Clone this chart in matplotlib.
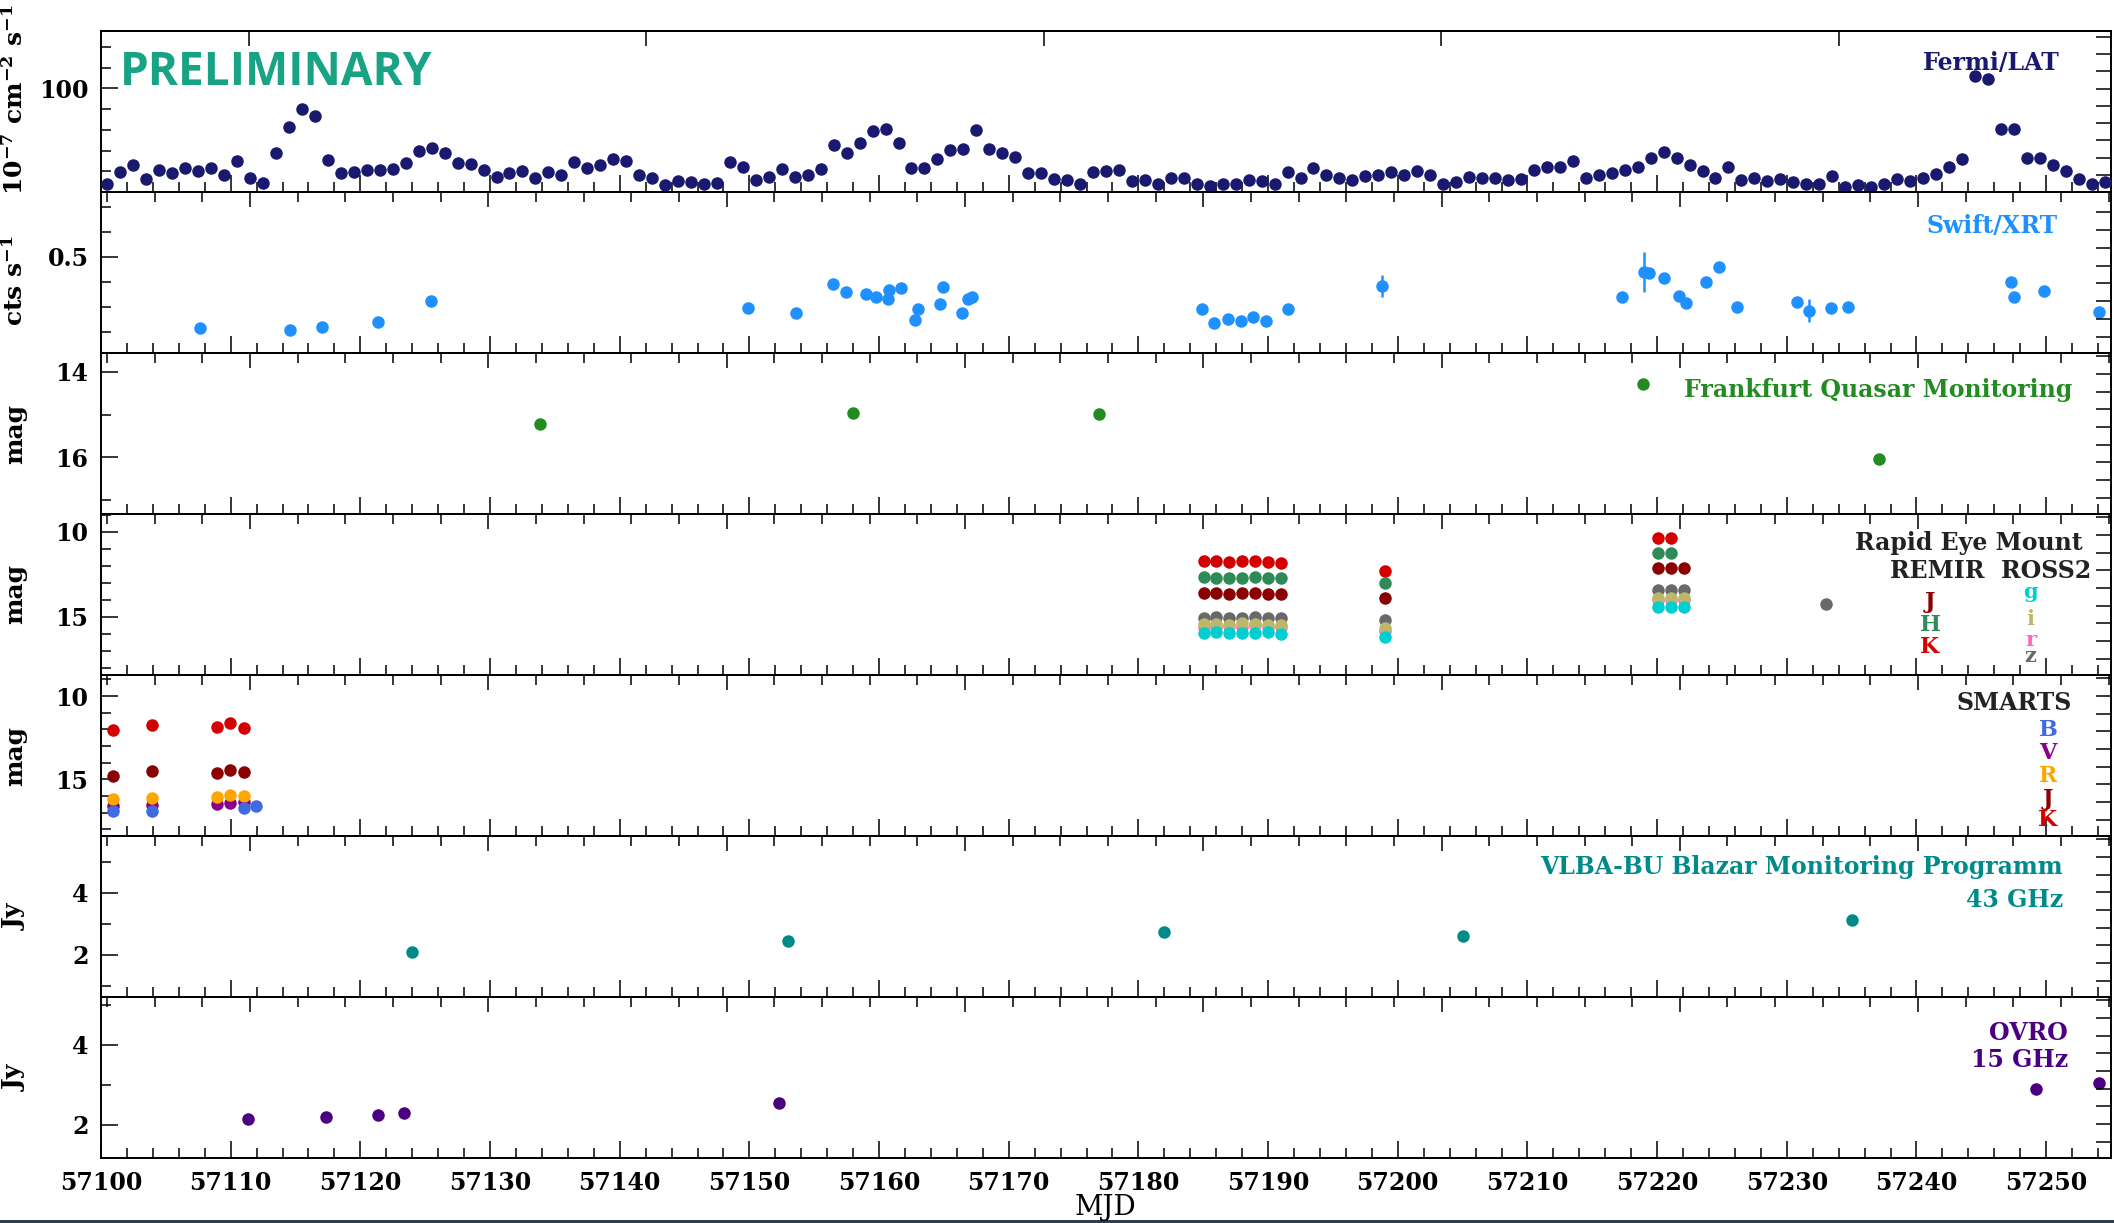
import matplotlib.pyplot as plt
import numpy as np
from matplotlib.ticker import MultipleLocator, FixedLocator, NullFormatter
from matplotlib.patches import Rectangle

plt.rcParams['font.family'] = 'DejaVu Serif'
plt.rcParams['mathtext.fontset'] = 'dejavuserif'
plt.rcParams['font.weight'] = 'bold'

# Fermi/LAT daily binned flux (1e-7 cm^-2 s^-1), first bin centred on MJD 57100.5
fermi_flux = [7.3, 19.4, 25.9, 12.4, 20.8, 17.9, 22.7, 20.4, 22.7, 16.9,
              29.8, 13.1, 8.8, 37.8, 62.9, 79.7, 73.5, 30.7, 17.9, 19.4,
              21.1, 21.1, 22.0, 28.1, 39.4, 42.6, 37.8, 28.1, 26.6, 21.1,
              14.6, 17.9, 20.4, 13.6, 19.4, 16.9, 29.1, 22.7, 25.9, 31.4,
              30.1, 16.2, 14.0, 6.6, 10.4, 9.8, 8.2, 8.8, 29.1, 23.7,
              11.4, 14.6, 22.0, 14.6, 16.2, 22.0, 45.2, 37.2, 47.8, 58.8,
              60.4, 47.5, 23.3, 23.3, 31.7, 40.4, 41.1, 59.4, 41.1, 37.2,
              33.9, 17.9, 18.5, 12.4, 11.4, 8.2, 18.9, 20.1, 21.1, 10.4,
              11.4, 7.3, 13.1, 13.1, 7.6, 5.6, 8.2, 7.6, 11.4, 10.4,
              7.6, 18.9, 13.1, 22.7, 16.2, 13.6, 11.4, 15.6, 16.9, 19.4,
              16.2, 20.4, 16.2, 7.3, 9.8, 14.6, 14.0, 13.6, 11.4, 12.4,
              21.1, 24.3, 24.3, 29.8, 13.1, 16.9, 18.5, 21.1, 24.3, 33.0,
              38.8, 33.0, 25.9, 20.1, 13.6, 23.7, 11.4, 13.1, 10.4, 12.4,
              9.8, 7.6, 8.2, 15.6, 4.4, 6.6, 4.9, 8.2, 12.4, 10.4,
              13.6, 17.2, 23.7, 31.7, 111.9, 108.7, 60.4, 60.4, 32.4, 32.4,
              25.9, 20.1, 12.4, 8.2, 9.8]
fermi_mjd = 57100.5 + np.arange(len(fermi_flux))

# Swift/XRT count rates
xrt_mjd = [57107.65, 57114.56, 57117.05, 57121.36, 57125.47, 57149.89, 57153.62,
           57156.48, 57157.42, 57158.97, 57159.75, 57160.68, 57160.79, 57161.67,
           57162.76, 57163.03, 57164.68, 57164.95, 57166.40, 57166.87, 57167.13,
           57184.93, 57185.86, 57186.90, 57187.94, 57188.82, 57189.86, 57191.57,
           57198.75, 57217.29, 57219.00, 57219.37, 57220.50, 57221.70, 57222.20,
           57223.80, 57224.80, 57226.17, 57230.80, 57231.70, 57233.40, 57234.70,
           57247.30, 57247.50, 57249.80, 57254.10]
xrt_rate = [0.214, 0.207, 0.219, 0.238, 0.322, 0.294, 0.274,
            0.391, 0.360, 0.350, 0.340, 0.330, 0.367, 0.374,
            0.247, 0.291, 0.310, 0.380, 0.274, 0.330, 0.338,
            0.290, 0.234, 0.251, 0.244, 0.258, 0.244, 0.290,
            0.383, 0.340, 0.438, 0.434, 0.414, 0.343, 0.314,
            0.398, 0.458, 0.300, 0.318, 0.284, 0.294, 0.298,
            0.400, 0.338, 0.364, 0.280]
xrt_err = [0.01, 0.01, 0.01, 0.01, 0.01, 0.01, 0.01,
           0.01, 0.01, 0.01, 0.01, 0.01, 0.01, 0.01,
           0.01, 0.01, 0.01, 0.01, 0.01, 0.01, 0.01,
           0.01, 0.01, 0.01, 0.01, 0.01, 0.01, 0.01,
           0.045, 0.01, 0.079, 0.01, 0.01, 0.01, 0.01,
           0.01, 0.01, 0.01, 0.01, 0.045, 0.01, 0.01,
           0.01, 0.01, 0.01, 0.01]

# Frankfurt Quasar Monitoring R magnitudes
fqm_mjd = [57133.87, 57157.97, 57176.98, 57218.94, 57237.12]
fqm_mag = [15.21, 14.96, 14.99, 14.29, 16.03]

# REM (REMIR J H K, ROSS2 g i r z)
rem_mjd = [57185.04, 57186.0, 57187.0, 57188.0, 57189.0, 57190.0, 57191.0,
           57199.04, 57220.07, 57221.06, 57222.06]
rem_K = [11.75, 11.70, 11.80, 11.75, 11.72, 11.76, 11.82, 12.30, 10.35, 10.35, np.nan]
rem_H = [12.68, 12.72, 12.70, 12.70, 12.68, 12.70, 12.72, 12.99, 11.24, 11.24, np.nan]
rem_J = [13.63, 13.62, 13.65, 13.63, 13.62, 13.64, 13.66, 13.93, 12.12, 12.12, 12.14]
rem_z = [15.05, 15.02, 15.08, 15.10, 15.00, 15.05, 15.10, 15.22, 13.43, 13.43, 13.45]
rem_r = [15.62, 15.60, 15.55, 15.62, 15.50, 15.62, 15.58, 15.85, 14.00, 14.00, 14.02]
rem_i = [15.45, 15.42, 15.48, 15.35, 15.45, 15.47, 15.50, 15.68, 13.88, 13.88, 13.90]
rem_g = [15.95, 15.92, 15.98, 15.96, 15.95, 15.90, 16.00, 16.18, 14.45, 14.42, 14.45]
rem_z_extra_mjd = [57233.03]
rem_z_extra = [14.27]

# SMARTS optical / near-IR magnitudes
smarts_mjd = [57100.96, 57103.95, 57108.94, 57109.97, 57111.0]
smarts_K = [12.04, 11.74, 11.88, 11.64, 11.90]
smarts_J = [14.80, 14.50, 14.64, 14.44, 14.54]
smarts_R = [16.20, 16.14, 16.08, 15.94, 15.98]
smarts_V = [16.60, 16.54, 16.48, 16.40, 16.34]
smarts_B_mjd = [57100.96, 57103.95, 57111.0, 57111.96]
smarts_B = [16.90, 16.88, 16.74, 16.60]

# VLBA-BU 43 GHz and OVRO 15 GHz flux densities (Jy)
vlba_mjd = [57124.0, 57152.97, 57181.95, 57205.0, 57235.02]
vlba_flux = [2.08, 2.43, 2.74, 2.61, 3.13]
ovro_mjd = [57111.33, 57117.36, 57121.36, 57123.33, 57152.27, 57249.24, 57254.07]
ovro_flux = [2.15, 2.20, 2.25, 2.29, 2.54, 2.90, 3.04]

W, H = 2114, 1223
fig = plt.figure(figsize=(W / 100, H / 100), dpi=100)

# panel frame in pixels
left, right = 101, 2111
top, bottom = 31, 1158
n = 7
ph = (bottom - top) / n
axes = []
for i in range(n):
    y_top = top + i * ph
    axes.append(fig.add_axes([left / W, 1 - (y_top + ph) / H, (right - left) / W, ph / H]))

MS = 9
TS = 17


def style(ax, rticks, top_months=False):
    ax.set_xlim(57100, 57255)
    ax.xaxis.set_major_locator(MultipleLocator(10))
    ax.xaxis.set_minor_locator(MultipleLocator(2))
    ax.tick_params(which='both', direction='in', top=False, right=False,
                   labelsize=TS, width=1.1, pad=9)
    ax.tick_params(which='major', length=12)
    ax.tick_params(which='minor', length=7)
    for s in ax.spines.values():
        s.set_linewidth(1.4)
    if top_months:
        sec = ax.secondary_xaxis('top', functions=(lambda x: (x - 57111.4) / 30.65,
                                                   lambda u: u * 30.65 + 57111.4))
        sec.xaxis.set_major_locator(MultipleLocator(1))
        sec.xaxis.set_minor_locator(FixedLocator([]))
    else:
        sec = ax.secondary_xaxis('top', functions=(lambda x: (x - 57111.5) / 3.675,
                                                   lambda u: u * 3.675 + 57111.5))
        sec.xaxis.set_major_locator(MultipleLocator(5))
        sec.xaxis.set_minor_locator(MultipleLocator(1))
    sec.xaxis.set_major_formatter(NullFormatter())
    sec.tick_params(which='both', direction='in', width=1.1)
    sec.tick_params(which='major', length=11)
    sec.tick_params(which='minor', length=7)
    sec.spines['top'].set_linewidth(1.4)
    tw = ax.twinx()
    tw.set_ylim(0, 1)
    tw.yaxis.set_major_locator(FixedLocator(rticks))
    tw.tick_params(direction='in', length=11, width=1.1, labelright=False)
    for s in tw.spines.values():
        s.set_visible(False)


# Fermi/LAT
ax = axes[0]
ax.plot(fermi_mjd, fermi_flux, 'o', color='midnightblue', ms=MS, mew=0, clip_on=False, zorder=3)
ax.set_ylim(0, 155.5)
ax.yaxis.set_major_locator(FixedLocator([100]))
ax.yaxis.set_minor_locator(FixedLocator([20, 40, 60, 80, 120, 140]))
style(ax, np.arange(1, 10) * 0.107, top_months=True)
ax.text(0.9746, 0.758, 'Fermi/LAT', transform=ax.transAxes, ha='right', va='baseline',
        color='midnightblue', fontsize=TS)
ax.text(0.0093, 0.665, 'PRELIMINARY', transform=ax.transAxes, ha='left', va='baseline',
        color='#18a384', fontsize=33, family='Open Sans', fontweight='bold')

# Swift/XRT
ax = axes[1]
ax.errorbar(xrt_mjd, xrt_rate, yerr=xrt_err, fmt='o', color='dodgerblue', ms=MS, mew=0,
            elinewidth=1.8, capsize=0)
ax.set_ylim(0.115, 0.759)
ax.yaxis.set_major_locator(FixedLocator([0.5]))
ax.yaxis.set_minor_locator(FixedLocator([0.2, 0.3, 0.4, 0.6, 0.7]))
ax.yaxis.set_major_formatter(plt.FuncFormatter(lambda v, p: '0.5'))
style(ax, 0.099 + np.arange(8) * 0.111)
ax.text(0.9736, 0.745, 'Swift/XRT', transform=ax.transAxes, ha='right', va='baseline',
        color='dodgerblue', fontsize=TS)

# Frankfurt Quasar Monitoring
ax = axes[2]
ax.plot(fqm_mjd, fqm_mag, 'o', color='forestgreen', ms=MS, mew=0)
ax.set_ylim(17.32, 13.56)
ax.yaxis.set_major_locator(FixedLocator([14, 16]))
ax.yaxis.set_minor_locator(FixedLocator([15, 17]))
style(ax, 0.1 + np.arange(9) * 0.11)
ax.text(0.9806, 0.727, 'Frankfurt Quasar Monitoring', transform=ax.transAxes, ha='right',
        va='baseline', color='forestgreen', fontsize=TS)

# REM
ax = axes[3]
rem_sets = [(rem_K, '#d40000'), (rem_H, 'seagreen'), (rem_J, 'darkred'),
            (rem_z, 'dimgray'), (rem_r, 'hotpink'), (rem_i, 'darkkhaki'),
            (rem_g, 'darkturquoise')]
for mags, c in rem_sets:
    ax.plot(rem_mjd, mags, 'o', color=c, ms=MS, mew=0)
ax.plot(rem_z_extra_mjd, rem_z_extra, 'o', color='dimgray', ms=MS, mew=0)
ax.set_ylim(18.43, 8.96)
ax.yaxis.set_major_locator(FixedLocator([10, 15]))
ax.yaxis.set_minor_locator(FixedLocator([9, 11, 12, 13, 14, 16, 17, 18]))
style(ax, 0.1 + np.arange(9) * 0.11)
tr = ax.transAxes
ax.text(0.986, 0.776, 'Rapid Eye Mount', transform=tr, ha='right', va='baseline',
        color='#222222', fontsize=TS)
ax.text(0.990, 0.602, 'REMIR  ROSS2', transform=tr, ha='right', va='baseline',
        color='#222222', fontsize=TS)
for lab, yy, c in [('J', 0.416, 'darkred'), ('H', 0.273, 'seagreen'), ('K', 0.137, '#d40000')]:
    ax.text(0.910, yy, lab, transform=tr, ha='center', va='baseline', color=c, fontsize=16)
for lab, yy, c in [('g', 0.478, 'darkturquoise'), ('i', 0.308, 'darkkhaki'),
                   ('r', 0.180, 'hotpink'), ('z', 0.078, 'dimgray')]:
    ax.text(0.960, yy, lab, transform=tr, ha='center', va='baseline', color=c, fontsize=15)

# SMARTS
ax = axes[4]
ax.plot(smarts_mjd, smarts_K, 'o', color='#d40000', ms=MS, mew=0)
ax.plot(smarts_mjd, smarts_J, 'o', color='darkred', ms=MS, mew=0)
ax.plot(smarts_mjd, smarts_V, 'o', color='darkmagenta', ms=MS, mew=0)
ax.plot(smarts_mjd, smarts_R, 'o', color='orange', ms=MS, mew=0)
ax.plot(smarts_B_mjd, smarts_B, 'o', color='royalblue', ms=MS, mew=0)
ax.set_ylim(18.4, 8.74)
ax.yaxis.set_major_locator(FixedLocator([10, 15]))
ax.yaxis.set_minor_locator(FixedLocator([9, 11, 12, 13, 14, 16, 17, 18]))
style(ax, 0.1 + np.arange(9) * 0.11)
tr = ax.transAxes
ax.text(0.9806, 0.783, 'SMARTS', transform=tr, ha='right', va='baseline',
        color='#222222', fontsize=TS)
for lab, yy, c in [('B', 0.621, 'royalblue'), ('V', 0.478, 'darkmagenta'),
                   ('R', 0.335, 'orange'), ('J', 0.193, 'darkred'), ('K', 0.062, '#d40000')]:
    ax.text(0.9687, yy, lab, transform=tr, ha='center', va='baseline', color=c, fontsize=16)

# VLBA-BU 43 GHz
ax = axes[5]
ax.plot(vlba_mjd, vlba_flux, 'o', color='darkcyan', ms=MS, mew=0)
ax.set_ylim(0.63, 5.83)
ax.yaxis.set_major_locator(FixedLocator([2, 4]))
ax.yaxis.set_minor_locator(FixedLocator([1, 3, 5]))
style(ax, 0.1 + np.arange(9) * 0.11)
ax.text(0.976, 0.764, 'VLBA-BU Blazar Monitoring Programm', transform=ax.transAxes,
        ha='right', va='baseline', color='darkcyan', fontsize=TS)
ax.text(0.976, 0.559, '43 GHz', transform=ax.transAxes, ha='right', va='baseline',
        color='darkcyan', fontsize=TS)

# OVRO 15 GHz
ax = axes[6]
ax.plot(ovro_mjd, ovro_flux, 'o', color='indigo', ms=MS, mew=0)
ax.set_ylim(1.175, 5.2)
ax.yaxis.set_major_locator(FixedLocator([2, 4]))
ax.yaxis.set_minor_locator(FixedLocator([3, 5]))
style(ax, 0.1 + np.arange(9) * 0.11)
ax.text(0.9786, 0.733, 'OVRO', transform=ax.transAxes, ha='right', va='baseline',
        color='indigo', fontsize=TS)
ax.text(0.9786, 0.565, '15 GHz', transform=ax.transAxes, ha='right', va='baseline',
        color='indigo', fontsize=TS)

for ax in axes[:-1]:
    ax.tick_params(labelbottom=False)

# x-axis title sits just above the bottom bar
fig.text(((left + right) / 2) / W, 1 - 1215 / H, 'MJD', ha='center', va='baseline',
         fontsize=20, fontweight='normal')

# y-axis labels
ylabels = [r'$\mathbf{10^{-7}\ cm^{-2}\ s^{-1}}$', r'$\mathbf{cts\ s^{-1}}$',
           'mag', 'mag', 'mag', 'Jy', 'Jy']
ycent = [100, 280, 433.5, 594.5, 755.5, 916.5, 1077.5]
for lab, yc in zip(ylabels, ycent):
    fig.text(15 / W, 1 - yc / H, lab, rotation=90, ha='center', va='center', fontsize=18)

fig.add_artist(Rectangle((0, 0), 1, 3 / H, transform=fig.transFigure,
                         color='#2c3e50', lw=0))

fig.savefig('out.png', dpi=100)
